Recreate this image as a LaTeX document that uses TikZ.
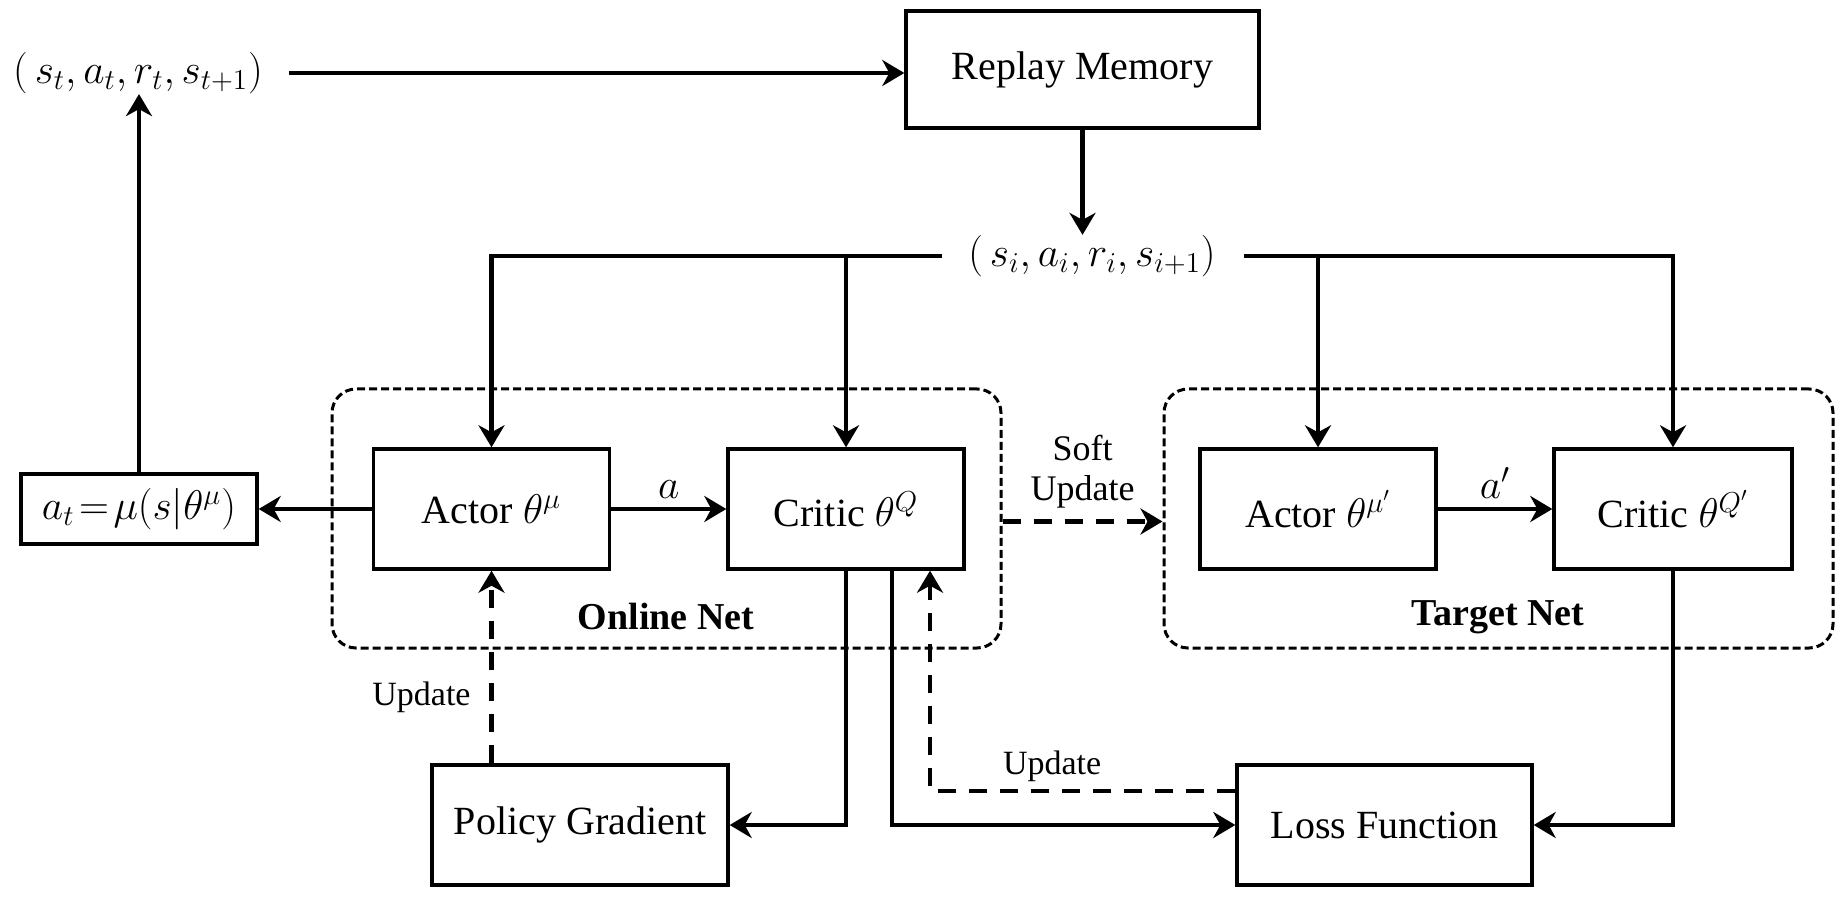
\documentclass[tikz,border=0pt]{standalone}
\usepackage{fontspec}
\setmainfont{Liberation Serif}
\usetikzlibrary{arrows.meta}
\begin{document}
\begin{tikzpicture}[x=0.5pt,y=-0.5pt,
 box/.style={draw, line width=1.7pt, minimum width=118pt, minimum height=60pt, font=\fontsize{20}{24}\selectfont, inner sep=0pt},
 grp/.style={draw, dash pattern=on 4pt off 2pt, line width=1.5pt, rounded corners=12pt, minimum width=334.5pt, minimum height=129.5pt},
 arr/.style={line width=2.3pt, -{Stealth[length=11pt,width=13pt,inset=3.5pt]}},
 darr/.style={arr, dash pattern=on 9pt off 6.5pt},
 lbl/.style={font=\fontsize{17}{20}\selectfont},
 tup/.style={font=\fontsize{20}{24}\selectfont, inner sep=0pt},
 ]
\useasboundingbox (0,0) rectangle (1835,897);
% groups
\node[grp] (online) at (666.5,518.5) {};
\node[grp] (target) at (1498.5,518.5) {};
\node[font=\fontsize{19}{22}\selectfont\bfseries] (onlinelbl) at (666,617) {Online Net};
\node[font=\fontsize{19}{22}\selectfont\bfseries] (targetlbl) at (1498,617) {Target Net};
% boxes
\node[box, minimum width=176.5pt, minimum height=58.5pt] (rm) at (1082.5,69.5) {Replay Memory};
\node[tup] (st) at (138,73) {$(\,s_t, a_t, r_t, s_{t+1})$};
\node[tup] (si) at (1092,256) {$(\,s_i, a_i, r_i, s_{i+1})$};
\node[box] (actor) at (491.5,509) {Actor $\theta^{\mu}$};
\node[box] (critic) at (846,509) {Critic $\theta^{Q}$};
\node[box] (actorp) at (1318,509) {Actor $\theta^{\mu'}$};
\node[box, minimum width=119pt] (criticp) at (1673,509) {Critic $\theta^{Q'}$};
\node[box, minimum height=35pt] (at) at (139,509) {$a_t\!=\!\mu(s|\theta^{\mu})$};
\node[box, minimum width=148pt] (pg) at (580,825) {Policy Gradient};
\node[box, minimum width=147.5pt] (lf) at (1384.5,825) {Loss Function};
% connectors
\draw[arr] ([xshift=13pt]st.east) -- (st.east -| rm.west);
\draw[arr] (rm.south) -- (rm.south |- si.north);
\draw[arr] ([xshift=-13pt]si.west) -| (actor.north);
\draw[arr] (critic.north |- si.west) -- (critic.north);
\draw[arr] ([xshift=14pt]si.east) -| (criticp.north);
\draw[arr] (actorp.north |- si.east) -- (actorp.north);
\draw[arr] (actor.west) -- (at.east);
\draw[arr] (at.north) -- (at.north |- st.south);
\draw[arr] (actor.east) -- node[above, tup, yshift=4pt] {$a$} (critic.west);
\draw[arr] (actorp.east) -- node[above, tup, yshift=4pt] {$a'$} (criticp.west);
\draw[darr] ([yshift=-1.5pt]online.east) -- node[above, align=center, font=\fontsize{18}{20}\selectfont, yshift=2pt] {Soft\\Update} ([yshift=-1.5pt]target.west);
\draw[arr] (critic.south) |- (pg.east);
\draw[arr] ([xshift=23pt]critic.south) |- (lf.west);
\draw[arr] (criticp.south) |- (lf.east);
\draw[darr] ([yshift=17pt]lf.west) -| node[above, lbl, pos=0.3] {Update} ([xshift=42pt]critic.south);
\draw[darr] (actor.south |- pg.north) -- node[left, lbl, pos=0.34, xshift=-6pt] {Update} (actor.south);
\end{tikzpicture}
\end{document}
